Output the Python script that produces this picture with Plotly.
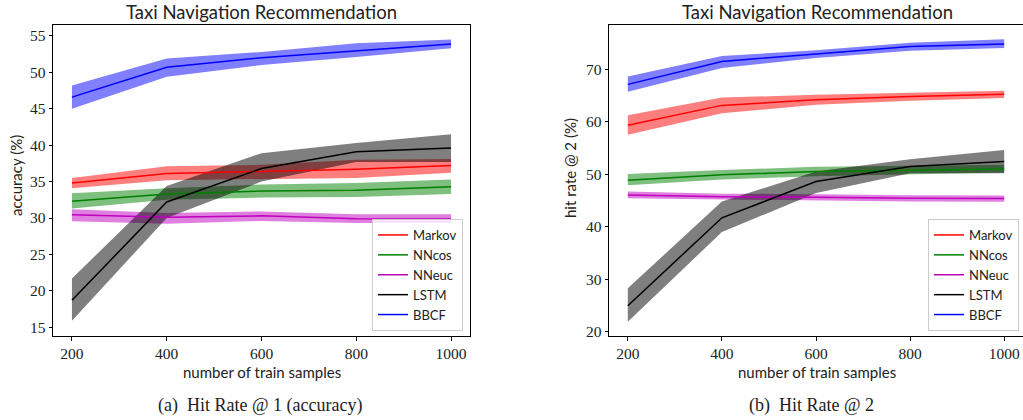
import plotly.graph_objects as go

x_samples = [200, 400, 600, 800, 1000]
methods = ["Markov", "NNcos", "NNeuc", "LSTM", "BBCF"]
colors = {"Markov": "rgb(255,0,0)", "NNcos": "rgb(0,128,0)", "NNeuc": "rgb(191,0,191)",
          "LSTM": "rgb(0,0,0)", "BBCF": "rgb(0,0,255)"}
fills = {"Markov": "rgba(255,0,0,0.5)", "NNcos": "rgba(0,128,0,0.5)", "NNeuc": "rgba(191,0,191,0.5)",
         "LSTM": "rgba(0,0,0,0.5)", "BBCF": "rgba(0,0,255,0.5)"}

# Hit Rate @ 1 (accuracy): mean, upper, lower
hr1_mean = {
    "Markov": [34.8, 36.1, 36.4, 36.7, 37.2],
    "NNcos": [32.3, 33.3, 33.7, 33.8, 34.3],
    "NNeuc": [30.45, 30.1, 30.3, 29.9, 29.86],
    "LSTM": [18.7, 32.2, 36.8, 39.1, 39.6],
    "BBCF": [46.6, 50.7, 52.0, 53.0, 53.9],
}
hr1_upper = {
    "Markov": [35.5, 37.1, 37.3, 38.0, 38.1],
    "NNcos": [33.4, 34.1, 34.6, 34.8, 35.3],
    "NNeuc": [31.2, 30.7, 30.9, 30.5, 30.5],
    "LSTM": [21.7, 34.4, 38.9, 40.3, 41.5],
    "BBCF": [48.2, 51.9, 52.8, 54.0, 54.5],
}
hr1_lower = {
    "Markov": [34.1, 35.2, 35.4, 35.5, 36.2],
    "NNcos": [31.3, 32.5, 32.8, 32.9, 33.3],
    "NNeuc": [29.55, 29.2, 29.6, 29.3, 29.3],
    "LSTM": [15.9, 30.0, 35.0, 37.7, 37.7],
    "BBCF": [45.0, 49.4, 51.0, 52.1, 53.3],
}

# Hit Rate @ 2
hr2_mean = {
    "Markov": [59.3, 63.1, 64.15, 64.8, 65.2],
    "NNcos": [48.85, 49.9, 50.5, 50.8, 51.0],
    "NNeuc": [46.05, 45.7, 45.6, 45.4, 45.35],
    "LSTM": [24.97, 41.7, 48.6, 51.45, 52.4],
    "BBCF": [67.1, 71.45, 72.9, 74.3, 74.8],
}
hr2_upper = {
    "Markov": [61.2, 64.6, 65.1, 65.5, 65.9],
    "NNcos": [50.05, 50.8, 51.4, 51.6, 51.8],
    "NNeuc": [46.7, 46.3, 46.2, 46.0, 45.95],
    "LSTM": [28.3, 44.8, 50.5, 52.85, 54.6],
    "BBCF": [68.6, 72.5, 73.6, 75.0, 75.7],
}
hr2_lower = {
    "Markov": [57.5, 61.6, 63.2, 64.0, 64.5],
    "NNcos": [47.9, 49.0, 49.6, 50.0, 50.3],
    "NNeuc": [45.4, 45.1, 45.0, 44.8, 44.75],
    "LSTM": [21.9, 39.0, 46.4, 50.2, 50.2],
    "BBCF": [65.7, 70.2, 72.1, 73.5, 74.0],
}

W, H = 1023, 420
serif = "Liberation Serif"
sans = "Lato"

fig = go.Figure()

def add_panel(mean, upper, lower, xa, ya, legend):
    for m in methods:
        fig.add_trace(go.Scatter(
            x=x_samples + x_samples[::-1], y=upper[m] + lower[m][::-1],
            fill="toself", fillcolor=fills[m], line=dict(width=0),
            mode="lines", hoverinfo="skip", showlegend=False, xaxis=xa, yaxis=ya))
    for m in methods:
        fig.add_trace(go.Scatter(
            x=x_samples, y=mean[m], mode="lines", name=m,
            line=dict(color=colors[m], width=1.5), xaxis=xa, yaxis=ya, legend=legend))

add_panel(hr1_mean, hr1_upper, hr1_lower, "x", "y", "legend")
add_panel(hr2_mean, hr2_upper, hr2_lower, "x2", "y2", "legend2")

ytop = 1 - 25 / H
ybot = 1 - 336 / H
ax_common = dict(showline=True, mirror=True, linecolor="black", linewidth=1, automargin=False,
                 ticks="outside", ticklen=3.5, tickcolor="black", showgrid=False, zeroline=False,
                 tickfont=dict(family=serif, size=15.5, color="#222"))

xticks = [200, 400, 600, 800, 1000]
leg_common = dict(xanchor="right", yanchor="bottom", xref="paper", yref="paper",
                  bgcolor="rgba(255,255,255,0.8)", bordercolor="#cccccc", borderwidth=1,
                  font=dict(family=sans, size=13, color="#222"), itemwidth=30, tracegroupgap=0)
fig.update_layout(
    width=W, height=H, margin=dict(l=0, r=0, t=0, b=0, autoexpand=False),
    plot_bgcolor="white", paper_bgcolor="white", showlegend=True,
    xaxis=dict(domain=[53 / W, 470 / W], range=[160, 1040], tickvals=xticks, anchor="y", **ax_common),
    yaxis=dict(domain=[ybot, ytop], range=[13.8, 56.5], tickvals=[15, 20, 25, 30, 35, 40, 45, 50, 55], anchor="x", **ax_common),
    xaxis2=dict(domain=[609 / W, 1.0], range=[160, 1040], tickvals=xticks, anchor="y2", **ax_common),
    yaxis2=dict(domain=[ybot, ytop], range=[19.2, 78.4], tickvals=[20, 30, 40, 50, 60, 70], anchor="x2", **ax_common),
    legend=dict(x=463 / W, y=1 - 331 / H, **leg_common),
    legend2=dict(x=1019 / W, y=1 - 331 / H, **leg_common),
)

ann = []
for cx, capx, title, cap in [(261.5, 260, "Taxi Navigation Recommendation", "(a)  Hit Rate @ 1 (accuracy)"),
                             (817, 811, "Taxi Navigation Recommendation", "(b)  Hit Rate @ 2")]:
    ann.append(dict(x=cx / W, y=1 - 12 / H, xref="paper", yref="paper", text=title, showarrow=False,
                    font=dict(family=sans, size=18.5, color="#222"), xanchor="center", yanchor="middle"))
    ann.append(dict(x=cx / W, y=1 - 372 / H, xref="paper", yref="paper", text="number of train samples",
                    showarrow=False, font=dict(family=sans, size=15, color="#222"), xanchor="center", yanchor="middle"))
    ann.append(dict(x=capx / W, y=1 - 405 / H, xref="paper", yref="paper", text=cap, showarrow=False,
                    font=dict(family=serif, size=18, color="#222"), xanchor="center", yanchor="middle"))
ann.append(dict(x=16 / W, y=1 - 176 / H, xref="paper", yref="paper", text="accuracy (%)", textangle=-90,
                showarrow=False, font=dict(family=sans, size=15, color="#222"), xanchor="center", yanchor="middle"))
ann.append(dict(x=570 / W, y=1 - 168 / H, xref="paper", yref="paper", text="hit rate @ 2 (%)", textangle=-90,
                showarrow=False, font=dict(family=sans, size=15, color="#222"), xanchor="center", yanchor="middle"))
fig.update_layout(annotations=ann)

fig.write_html("out.html", config={"displayModeBar": False},
               post_script="document.body.style.margin='0px';document.body.style.overflow='hidden';")
